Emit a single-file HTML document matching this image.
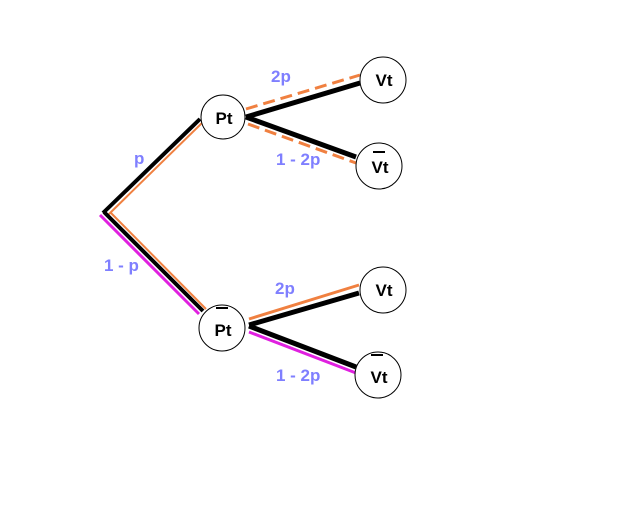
<!DOCTYPE html>
<html><head><style>
html,body{margin:0;padding:0;background:#fff;width:640px;height:512px;overflow:hidden}
text{font-family:"Liberation Sans",sans-serif;font-weight:bold}
</style></head><body>
<svg width="640" height="512" viewBox="0 0 640 512" xmlns="http://www.w3.org/2000/svg">
<rect width="640" height="512" fill="#fff"/>
<!-- root to Pt -->
<line x1="108" y1="215" x2="203" y2="122" stroke="#f08040" stroke-width="2"/>
<line x1="103" y1="213" x2="200" y2="119" stroke="#000" stroke-width="4"/>
<!-- root to Pt-bar -->
<line x1="110" y1="212" x2="206" y2="309" stroke="#f08040" stroke-width="2"/>
<line x1="100" y1="215" x2="199" y2="314" stroke="#e020e0" stroke-width="3"/>
<line x1="104" y1="212" x2="203" y2="311" stroke="#000" stroke-width="4"/>
<!-- upper branches -->
<line x1="246" y1="109" x2="360" y2="75" stroke="#f08040" stroke-width="3" stroke-dasharray="12,6"/>
<line x1="246" y1="117" x2="360" y2="83" stroke="#000" stroke-width="5"/>
<line x1="248" y1="124" x2="356" y2="163" stroke="#f08040" stroke-width="3" stroke-dasharray="12,6"/>
<line x1="246" y1="117" x2="356" y2="157" stroke="#000" stroke-width="5"/>
<!-- lower branches -->
<line x1="249" y1="319" x2="359" y2="285" stroke="#f08040" stroke-width="3"/>
<line x1="249" y1="325" x2="359" y2="293" stroke="#000" stroke-width="5"/>
<line x1="249" y1="332" x2="356" y2="373" stroke="#e020e0" stroke-width="3"/>
<line x1="249" y1="326" x2="356" y2="367" stroke="#000" stroke-width="5"/>
<!-- nodes -->
<g fill="#fff" stroke="#000" stroke-width="1">
<circle cx="223" cy="117" r="22"/>
<circle cx="383" cy="80" r="23"/>
<circle cx="379" cy="166" r="23"/>
<circle cx="222" cy="328" r="23"/>
<circle cx="383" cy="290" r="23"/>
<circle cx="378" cy="375" r="23"/>
</g>
<g font-size="17" fill="#000" text-anchor="middle">
<text x="224" y="124">Pt</text>
<text x="384" y="86">Vt</text>
<text x="380" y="173">Vt</text>
<text x="223" y="336">Pt</text>
<text x="384" y="296">Vt</text>
<text x="379" y="383">Vt</text>
</g>
<g stroke="#000" stroke-width="2">
<line x1="373" y1="152" x2="385" y2="152"/>
<line x1="216" y1="308" x2="228" y2="308"/>
<line x1="371" y1="355" x2="383" y2="355"/>
</g>
<g font-size="17" fill="#7f7fff">
<text x="271" y="82">2p</text>
<text x="276" y="165">1 - 2p</text>
<text x="134" y="164">p</text>
<text x="104" y="271">1 - p</text>
<text x="275" y="294">2p</text>
<text x="276" y="381">1 - 2p</text>
</g>
</svg>
</body></html>
